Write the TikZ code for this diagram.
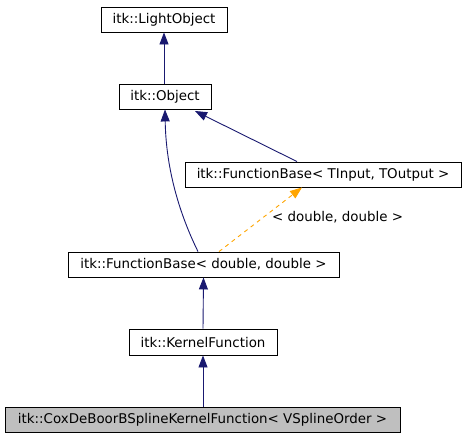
\documentclass[tikz,border=0pt]{standalone}
\usepackage{fontspec}
\setmainfont{DejaVu Sans}
\usetikzlibrary{arrows.meta}
\definecolor{navy}{HTML}{191970}
\definecolor{orng}{HTML}{FFA500}
\definecolor{grayfill}{HTML}{BFBFBF}
\begin{document}
\begin{tikzpicture}[x=1pt,y=-1pt,
  cls/.style={draw=black,line width=0.9pt,fill=white,inner sep=0pt,minimum height=25pt,font=\fontsize{13.4}{15}\selectfont,anchor=center},
  inh/.style={draw=navy,line width=0.9pt,-{Triangle[length=12pt,width=9pt]}},
  tmpl/.style={draw=orng,line width=0.9pt,dash pattern=on 4pt off 4pt,-{Triangle[length=12pt,width=9pt]}}]
\useasboundingbox (0,0) rectangle (465,437);
\node[cls,minimum width=126pt] (light) at (164,19.5) {itk::LightObject};
\node[cls,minimum width=92pt] (obj) at (165,96.5) {itk::Object};
\node[cls,minimum width=276pt] (fbt) at (323,174.5) {itk::FunctionBase< TInput, TOutput >};
\node[cls,minimum width=271pt] (fbd) at (203.5,264.5) {itk::FunctionBase< double, double >};
\node[cls,minimum width=148pt,minimum height=26pt] (kern) at (203,342) {itk::KernelFunction};
\node[cls,fill=grayfill,minimum width=395pt] (cox) at (202.5,419.5) {itk::CoxDeBoorBSplineKernelFunction< VSplineOrder >};
\coordinate (lblpos) at (272,217);
\draw[inh] (obj.north -| light.south) -- (light.south);
\draw[inh] ([xshift=-5.5pt]fbd.north) .. controls (180,215) and (166,170) .. (obj.south);
\draw[inh] ([xshift=-26pt]fbt.north) -- (195,111);
\draw[tmpl] ([xshift=15.5pt]fbd.north) -- ([xshift=-21pt]fbt.south);
\node[anchor=west,inner sep=0pt,font=\fontsize{13.4}{15}\selectfont] (lbl) at (lblpos) {< double, double >};
\draw[inh] (kern.north) -- (fbd.south);
\draw[inh] (cox.north -| kern.south) -- (kern.south);
\end{tikzpicture}
\end{document}
